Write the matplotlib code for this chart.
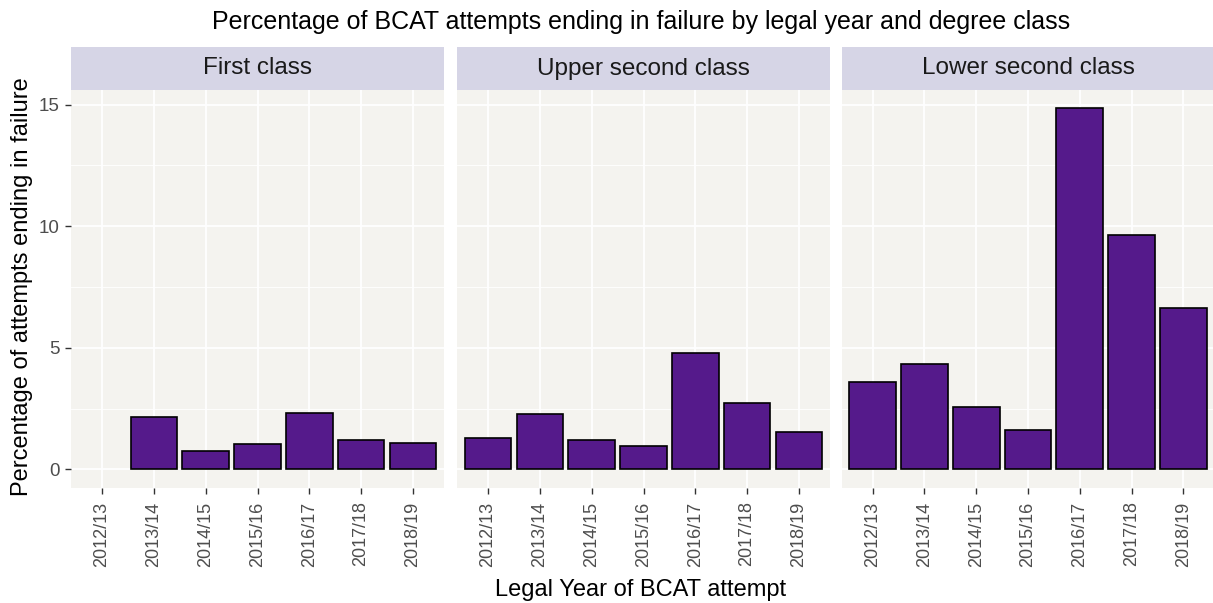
import numpy as np
import matplotlib
matplotlib.use('Agg')
import matplotlib.pyplot as plt

plt.rcParams['font.family'] = ['Liberation Sans', 'DejaVu Sans']

years = ['2012/13', '2013/14', '2014/15', '2015/16', '2016/17', '2017/18', '2018/19']
classes = ['First class', 'Upper second class', 'Lower second class']

# percentage of attempts ending in failure (nan = no data)
first_class = [np.nan, 2.15, 0.78, 1.04, 2.34, 1.23, 1.10]
upper_second = [1.30, 2.29, 1.23, 0.97, 4.79, 2.75, 1.56]
lower_second = [3.60, 4.34, 2.55, 1.64, 14.86, 9.66, 6.63]
values = [first_class, upper_second, lower_second]

W, H = 1213, 603
fig = plt.figure(figsize=(W / 100, H / 100), dpi=100)
fig.patch.set_facecolor('white')

panel_left = [71, 457, 841.5]
panel_w = 373
panel_top, panel_bottom = 90, 487.5
strip_top = 47

x = np.arange(1, len(years) + 1)
for i, (name, vals) in enumerate(zip(classes, values)):
    left = panel_left[i]
    ax = fig.add_axes([left / W, 1 - panel_bottom / H, panel_w / W,
                       (panel_bottom - panel_top) / H])
    ax.set_facecolor('#F4F3EF')
    vals = np.array(vals, dtype=float)
    ok = ~np.isnan(vals)
    ax.bar(x[ok], vals[ok], width=0.9, color='#551A8B',
           edgecolor='black', linewidth=1.2, zorder=3)
    ax.set_xlim(0.4, 7.6)
    ax.set_ylim(-0.74, 15.6)
    ax.set_xticks(x)
    ax.set_xticklabels(years, rotation=90, fontsize=13, color='#4D4D4D')
    ax.set_yticks([0, 5, 10, 15])
    ax.set_yticks([2.5, 7.5, 12.5], minor=True)
    ax.grid(True, which='major', color='white', linewidth=1.3, zorder=0)
    ax.grid(True, which='minor', axis='y', color='white', linewidth=0.6, zorder=0)
    ax.tick_params(axis='both', which='major', length=4, width=1, color='#333333', pad=4)
    ax.tick_params(axis='x', which='major', pad=6)
    ax.tick_params(axis='y', which='minor', length=0)
    for s in ax.spines.values():
        s.set_visible(False)
    if i == 0:
        ax.set_yticklabels(['0', '5', '10', '15'], fontsize=13.5, color='#4D4D4D')
    else:
        ax.tick_params(axis='y', which='major', length=0, labelleft=False)

    sax = fig.add_axes([left / W, 1 - panel_top / H, panel_w / W,
                        (panel_top - strip_top) / H])
    sax.set_facecolor('#D6D5E6')
    sax.set_xticks([])
    sax.set_yticks([])
    for s in sax.spines.values():
        s.set_visible(False)
    sax.text(0.5, 0.5, name, ha='center', va='center', fontsize=17.5,
             color='#1A1A1A', transform=sax.transAxes)

fig.text(641 / W, 1 - 22 / H, 'Percentage of BCAT attempts ending in failure by legal year and degree class',
         ha='center', va='center', fontsize=18, color='black')
fig.text(641 / W, 1 - 590 / H, 'Legal Year of BCAT attempt',
         ha='center', va='center', fontsize=17, color='black')
fig.text(22 / W, 1 - 287 / H, 'Percentage of attempts ending in failure',
         ha='center', va='center', rotation=90, fontsize=17, color='black')

fig.savefig('out.png', dpi=100)
